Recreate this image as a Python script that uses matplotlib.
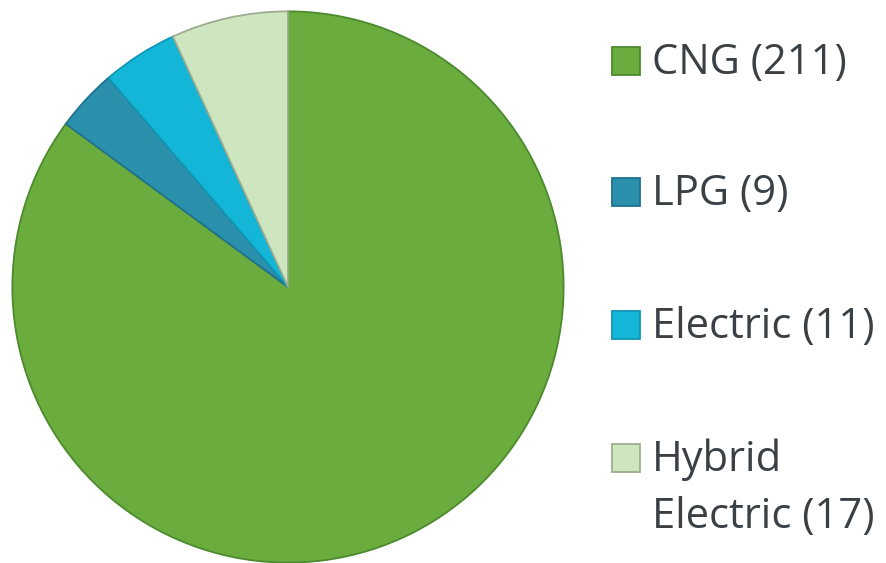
import matplotlib.pyplot as plt
from matplotlib.patches import Rectangle

labels = ["CNG", "LPG", "Electric", "Hybrid\nElectric"]
counts = [211, 9, 11, 17]
colors = ["#6BAC3F", "#2A90AB", "#14B6D8", "#CEE6BF"]
edges = ["#4C8A2C", "#1F7290", "#1096B6", "#9CAC90"]

W, H = 886, 563
fig = plt.figure(figsize=(W / 100, H / 100), dpi=100)

# pie axes: center (288, 287), radius 277 px
cx, cy, r = 288, 287, 277
ax = fig.add_axes([(cx - r) / W, 1 - (cy + r) / H, 2 * r / W, 2 * r / H])
wedges, _ = ax.pie(counts, colors=colors, startangle=90, counterclock=False,
                   wedgeprops=dict(linewidth=1.3))
for w, ec in zip(wedges, edges):
    w.set_edgecolor(ec)
ax.set_aspect("equal")
ax.set_xlim(-1.005, 1.005)
ax.set_ylim(-1.005, 1.005)
ax.axis("off")

# legend drawn by hand
rows_y = [61, 192, 325, 458]
for lab, n, col, ec, y in zip(labels, counts, colors, edges, rows_y):
    fig.patches.append(Rectangle((612 / W, 1 - (y + 14) / H), 28 / W, 28 / H,
                                 transform=fig.transFigure, facecolor=col,
                                 edgecolor=ec, linewidth=1.3))
    lines = f"{lab} ({n})".split("\n")
    for i, line in enumerate(lines):
        fig.text(652 / W, 1 - (y + 2 + i * 57) / H, line, fontsize=30,
                 family="Open Sans", color="#3B4045", va="center", ha="left")

fig.savefig("out.png", dpi=100)
